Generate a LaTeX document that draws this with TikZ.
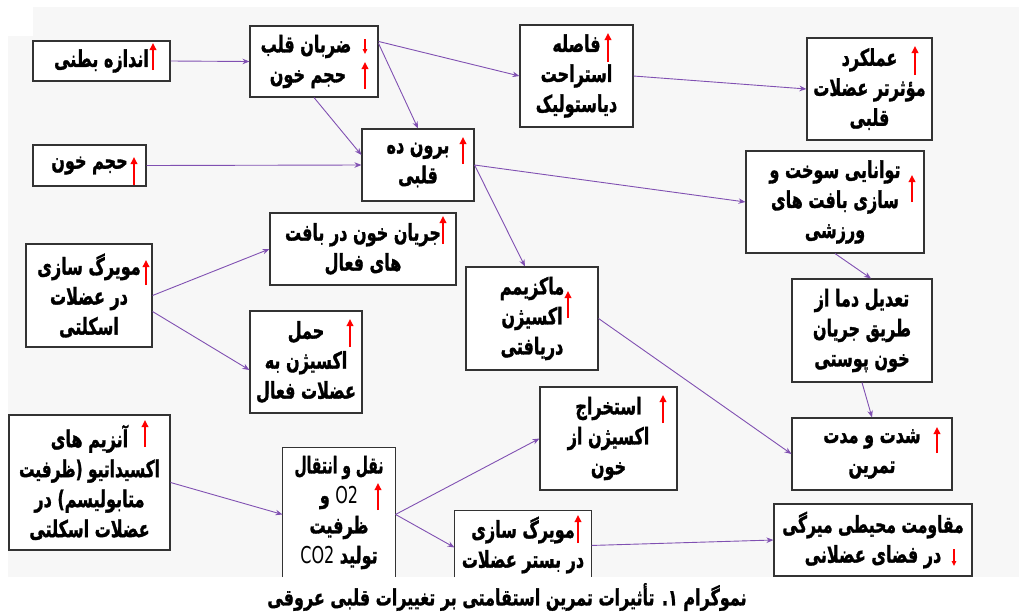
\documentclass[tikz,border=0pt]{standalone}
\usepackage{fontspec}
\newfontfamily\fa[Script=Arabic,BoldFeatures={FakeBold=1.5}]{DejaVu Sans}
\newfontfamily\fc[Script=Arabic,BoldFeatures={FakeBold=1.3}]{DejaVu Sans}
\newfontfamily\la{DejaVu Sans}
\TeXXeTstate=1
\usetikzlibrary{arrows.meta}
\definecolor{conncol}{RGB}{128,80,178}
\definecolor{bgcol}{RGB}{247,247,247}
% \RL[right padding]{text}; \RLh{hscale}{text}
\newcommand\RL[2][0pt]{\scalebox{1}[1.45]{\beginR #2\endR\kern#1}}
\newcommand\RLh[2]{\scalebox{#1}[1.45]{\beginR #2\endR}}
\newcommand\RC[1]{\scalebox{1}[1.4]{\beginR #1\endR}}
\begin{document}
\begin{tikzpicture}[x=1pt,y=-1pt,
  box/.style={draw=black!80, fill=white, line width=1.1pt, inner sep=0pt, align=center,
              font=\fa\bfseries\fontsize{16}{30}\selectfont},
  openbox/.style={box, draw=none},
  conn/.style={draw=conncol, line width=0.9pt, -{Stealth[length=7pt,width=5.5pt]}},
  upar/.style={draw=red, line width=2.2pt, -{Triangle[length=7pt,width=6.5pt]}},
  dnar/.style={draw=red, line width=1.5pt, -{Triangle[length=5pt,width=4.5pt]}},
  capt/.style={font=\fc\bfseries\fontsize{16}{20}\selectfont}]
\useasboundingbox (0,0) rectangle (1019,611);
\fill[white] (0,0) rectangle (1019,611);
\fill[bgcol] (8,7) rectangle (1019,577);
\fill[white] (8,7) rectangle (33,36);

% boxes
\node[box,minimum width=137pt,minimum height=40pt] (A) at (101.5,61) {\RL{اندازه بطنی}};
\node[box,minimum width=128pt,minimum height=71pt] (B) at (314,61.5) {\RL[16pt]{ضربان قلب}\\\RL[12pt]{حجم خون}};
\node[box,minimum width=113pt,minimum height=102pt] (C) at (576.5,76) {\RL{فاصله}\\\RL{استراحت}\\\RL{دیاستولیک}};
\node[box,minimum width=125pt,minimum height=102pt] (D) at (869.5,89) {\RL{عملکرد}\\\RL{مؤثرتر عضلات}\\\RL{قلبی}};
\node[box,minimum width=112pt,minimum height=72pt] (E) at (418,165) {\RL{برون ده}\\\RL{قلبی}};
\node[box,minimum width=113pt,minimum height=41pt] (F) at (89.5,165.5) {\RL{حجم خون}};
\node[box,minimum width=178pt,minimum height=102pt] (G) at (835,202) {\RL{توانایی سوخت و}\\\RL{سازی بافت های}\\\RL{ورزشی}};
\node[box,minimum width=186pt,minimum height=72pt] (H) at (363,249) {\RL{جریان خون در بافت}\\\RL{های فعال}};
\node[box,minimum width=126pt,minimum height=103pt] (I) at (89,295.5) {\RL{مویرگ سازی}\\\RL{در عضلات}\\\RL{اسکلتی}};
\node[box,minimum width=132pt,minimum height=103pt] (J) at (532,318.5) {\RL{ماکزیمم}\\\RL{اکسیژن}\\\RL{دریافتی}};
\node[box,minimum width=112pt,minimum height=102pt] (K) at (306,362) {\RL{حمل}\\\RL{اکسیژن به}\\\RL{عضلات فعال}};
\node[box,minimum width=140pt,minimum height=103pt] (L) at (862,330.5) {\RL{تعدیل دما از}\\\RL{طریق جریان}\\\RL{خون پوستی}};
\node[box,minimum width=137pt,minimum height=103pt] (M) at (608.5,438.5) {\RL{استخراج}\\\RL{اکسیژن از}\\\RL{خون}};
\node[box,minimum width=160pt,minimum height=72pt] (N) at (872,454) {\RL{شدت و مدت}\\\RL{تمرین}};
\node[box,minimum width=161pt,minimum height=135pt] (O) at (89.5,482.5) {\RL{آنزیم های}\\\RLh{0.96}{اکسیداتیو (ظرفیت}\\\RL{متابولیسم) در}\\\RL{عضلات اسکلتی}};
\node[openbox,minimum width=112pt,minimum height=129pt] (P) at (339,512.5) {\RLh{0.87}{نقل و انتقال}\\\RL{{\la\mdseries O2} و}\\\RL{ظرفیت}\\\RL{تولید {\la\mdseries CO2}}};
\node[openbox,minimum width=136pt,minimum height=68pt] (Q) at (523,545) {\RL{مویرگ سازی}\\\RL{در بستر عضلات}};
\node[box,minimum width=198pt,minimum height=72pt] (R) at (873,540) {\RLh{0.97}{مقاومت محیطی میرگی}\\\RL{در فضای عضلانی}};
\draw[black!80,line width=1.1pt] (P.south west|-0,577) -- (P.north west) -- (P.north east) -- (P.south east|-0,577);
\draw[black!80,line width=1.1pt] (Q.south west|-0,577) -- (Q.north west) -- (Q.north east) -- (Q.south east|-0,577);

% connectors
\draw[conn] (A.east) -- (B.west);
\draw[conn] ([yshift=-16pt]B.north east) -- (C.west);
\draw[conn] ([yshift=-18pt]B.north east) -- (E.north);
\draw[conn] (B.south) -- ([yshift=10pt]E.west);
\draw[conn] (F.east) -- (E.west);
\draw[conn] (C.east) -- (D.west);
\draw[conn] (E.east) -- (G.west);
\draw[conn] (E.east) -- ([xshift=-7pt]J.north);
\draw[conn] (G.south) -- ([xshift=9pt]L.north);
\draw[conn] (L.south) -- (N.north);
\draw[conn] (J.east) -- (N.west);
\draw[conn] (I.east) -- (H.west);
\draw[conn] ([yshift=-16pt]I.east) -- ([yshift=-8pt]K.west);
\draw[conn] (O.east) -- ([yshift=-67pt]P.north west);
\draw[conn] ([yshift=-67pt]P.north east) -- (M.west);
\draw[conn] ([yshift=-67pt]P.north east) -- ([yshift=-37pt]Q.north west);
\draw[conn] ([yshift=-35pt]Q.north east) -- (R.west);

% red arrows
\draw[upar] (153,70) -- (153,43);
\draw[dnar] (365,39) -- (365,54);
\draw[upar] (365,89) -- (365,62);
\draw[upar] (608,62) -- (608,33);
\draw[upar] (915,75) -- (915,46);
\draw[upar] (463,164) -- (463,137);
\draw[upar] (134,185) -- (134,157);
\draw[upar] (912,202) -- (912,175);
\draw[upar] (443,244) -- (443,216);
\draw[upar] (146,285) -- (146,260);
\draw[upar] (350,347) -- (350,319);
\draw[upar] (568,318) -- (568,291);
\draw[upar] (663,423) -- (663,395);
\draw[upar] (937,453) -- (937,427);
\draw[upar] (145,447) -- (145,420);
\draw[upar] (378,510) -- (378,483);
\draw[upar] (578,543) -- (578,515);
\draw[dnar] (954,549) -- (954,566);

% caption
\node[capt] (cap) at (507,597) {\RC{نموگرام ۱. تأثیرات تمرین استقامتی بر تغییرات قلبی عروقی}};
\end{tikzpicture}
\end{document}
